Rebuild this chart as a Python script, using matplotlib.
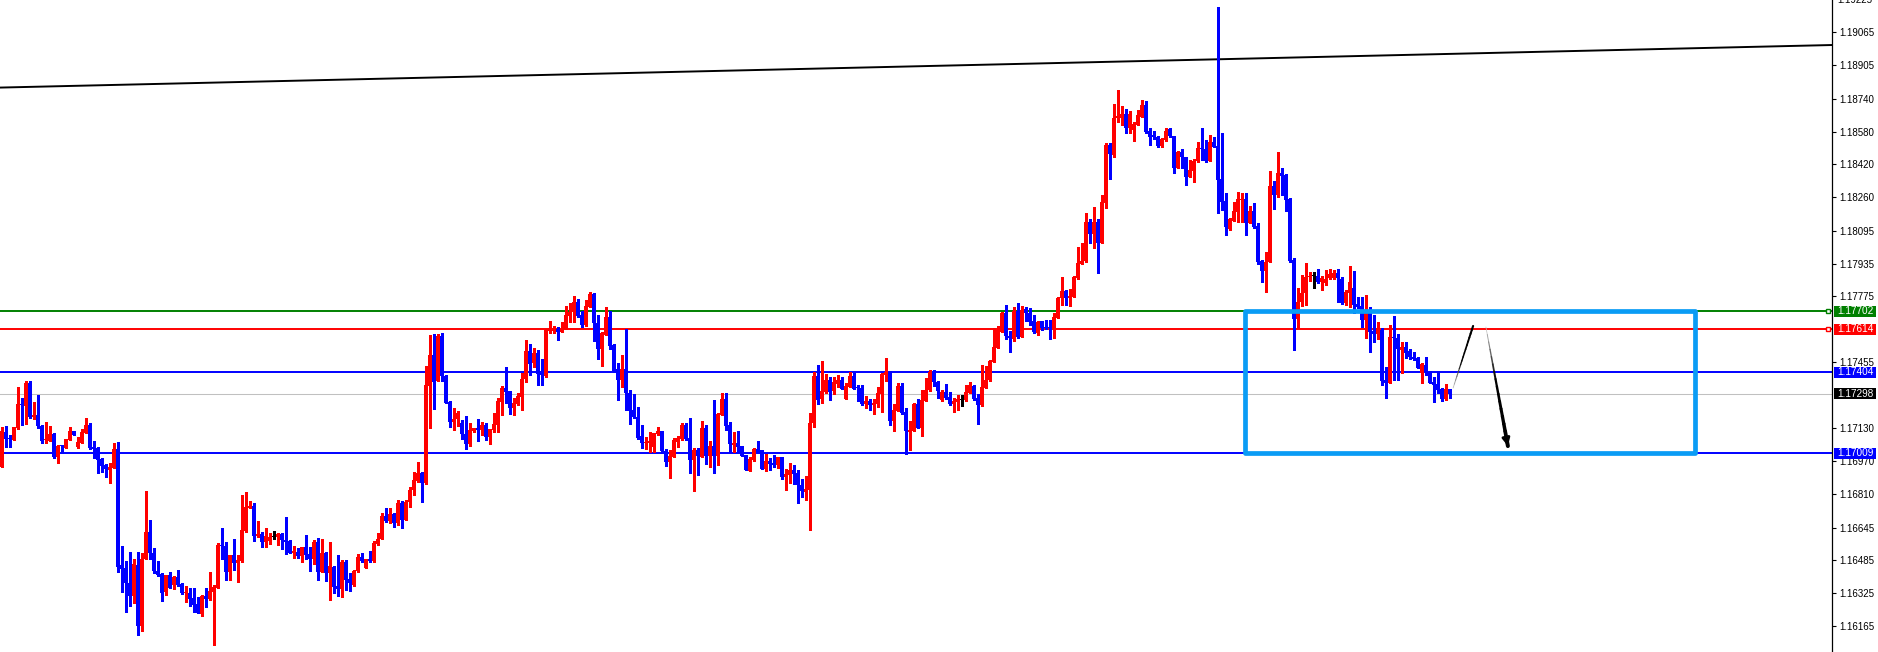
import matplotlib
matplotlib.use("Agg")
import matplotlib.pyplot as plt
from matplotlib.patches import Rectangle
from matplotlib.collections import LineCollection
from matplotlib.transforms import blended_transform_factory
import numpy as np

# OHLC, one candle per bar, oldest first
opens = [
    1.16941, 1.17112, 1.17083, 1.17073, 1.17132, 1.17249, 1.17239, 1.17351, 1.17185, 1.17195,
    1.17141, 1.17073, 1.17068, 1.17102, 1.16990, 1.17044, 1.17034, 1.17073, 1.17117, 1.17039,
    1.17058, 1.17107, 1.17146, 1.17039, 1.17034, 1.16980, 1.16951, 1.16926, 1.16936, 1.17029,
    1.16462, 1.16447, 1.16374, 1.16310, 1.16462, 1.16164, 1.16491, 1.16623, 1.16520, 1.16432,
    1.16418, 1.16330, 1.16413, 1.16364, 1.16403, 1.16369, 1.16325, 1.16325, 1.16301, 1.16271,
    1.16222, 1.16310, 1.16296, 1.16330, 1.16349, 1.16560, 1.16555, 1.16428, 1.16511, 1.16472,
    1.16481, 1.16628, 1.16740, 1.16750, 1.16604, 1.16613, 1.16574, 1.16579, 1.16599, 1.16599,
    1.16613, 1.16584, 1.16579, 1.16520, 1.16525, 1.16506, 1.16550, 1.16516, 1.16491, 1.16574,
    1.16428, 1.16520, 1.16423, 1.16452, 1.16359, 1.16344, 1.16476, 1.16393, 1.16364, 1.16432,
    1.16501, 1.16447, 1.16491, 1.16481, 1.16564, 1.16589, 1.16701, 1.16677, 1.16711, 1.16667,
    1.16765, 1.16682, 1.16770, 1.16828, 1.16872, 1.16912, 1.16863, 1.17337, 1.17488, 1.17361,
    1.17581, 1.17386, 1.17258, 1.17160, 1.17175, 1.17156, 1.17102, 1.17053, 1.17117, 1.17132,
    1.17122, 1.17146, 1.17088, 1.17122, 1.17146, 1.17258, 1.17327, 1.17312, 1.17229, 1.17249,
    1.17283, 1.17371, 1.17508, 1.17449, 1.17498, 1.17400, 1.17386, 1.17605, 1.17605, 1.17615,
    1.17600, 1.17615, 1.17679, 1.17698, 1.17747, 1.17684, 1.17635, 1.17723, 1.17786, 1.17644,
    1.17518, 1.17586, 1.17674, 1.17537, 1.17420, 1.17366, 1.17420, 1.17302, 1.17219, 1.17185,
    1.17093, 1.17058, 1.17058, 1.17039, 1.17102, 1.17117, 1.17019, 1.16966, 1.16990, 1.17063,
    1.17078, 1.17146, 1.17083, 1.16975, 1.17024, 1.16990, 1.17132, 1.16995, 1.17044, 1.16995,
    1.17195, 1.17273, 1.17146, 1.17049, 1.17058, 1.17044, 1.17000, 1.16921, 1.16975, 1.17029,
    1.17024, 1.16931, 1.16970, 1.16961, 1.16951, 1.16990, 1.16892, 1.16902, 1.16926, 1.16912,
    1.16853, 1.16818, 1.16828, 1.17156, 1.17386, 1.17273, 1.17307, 1.17366, 1.17312, 1.17346,
    1.17366, 1.17273, 1.17332, 1.17386, 1.17327, 1.17327, 1.17249, 1.17263, 1.17244, 1.17249,
    1.17297, 1.17390, 1.17405, 1.17165, 1.17214, 1.17337, 1.17209, 1.17112, 1.17117, 1.17249,
    1.17132, 1.17263, 1.17317, 1.17405, 1.17356, 1.17268, 1.17307, 1.17283, 1.17249, 1.17258,
    1.17268, 1.17268, 1.17302, 1.17337, 1.17278, 1.17244, 1.17327, 1.17366, 1.17454, 1.17522,
    1.17600, 1.17693, 1.17581, 1.17566, 1.17703, 1.17576, 1.17713, 1.17693, 1.17654, 1.17596,
    1.17654, 1.17625, 1.17625, 1.17620, 1.17669, 1.17767, 1.17801, 1.17767, 1.17772, 1.17864,
    1.17933, 1.17948, 1.18138, 1.18079, 1.18138, 1.18036, 1.18231, 1.18514, 1.18465, 1.18646,
    1.18646, 1.18666, 1.18598, 1.18588, 1.18612, 1.18651, 1.18710, 1.18583, 1.18563, 1.18553,
    1.18509, 1.18539, 1.18593, 1.18558, 1.18402, 1.18480, 1.18456, 1.18358, 1.18387, 1.18436,
    1.18500, 1.18495, 1.18436, 1.18529, 1.18509, 1.18348, 1.18241, 1.18104, 1.18143, 1.18187,
    1.18246, 1.18251, 1.18133, 1.18192, 1.18119, 1.17948, 1.17899, 1.17943, 1.18314, 1.18270,
    1.18378, 1.18368, 1.18251, 1.17952, 1.17664, 1.17747, 1.17791, 1.17869, 1.17874, 1.17874,
    1.17845, 1.17840, 1.17864, 1.17864, 1.17889, 1.17860, 1.17742, 1.17791, 1.17816, 1.17738,
    1.17728, 1.17659, 1.17698, 1.17605, 1.17591, 1.17610, 1.17366, 1.17351, 1.17576, 1.17571,
    1.17513, 1.17527, 1.17508, 1.17478, 1.17474, 1.17400, 1.17439, 1.17405, 1.17356, 1.17346,
    1.17322, 1.17273, 1.17322,
]
highs = [
    1.17136, 1.17141, 1.17098, 1.17136, 1.17332, 1.17278, 1.17361, 1.17361, 1.17258, 1.17293,
    1.17146, 1.17160, 1.17141, 1.17107, 1.17049, 1.17049, 1.17078, 1.17136, 1.17117, 1.17088,
    1.17127, 1.17180, 1.17156, 1.17068, 1.17039, 1.16985, 1.16956, 1.16961, 1.17058, 1.17063,
    1.16555, 1.16481, 1.16525, 1.16491, 1.16525, 1.16520, 1.16823, 1.16682, 1.16545, 1.16481,
    1.16423, 1.16413, 1.16428, 1.16408, 1.16437, 1.16374, 1.16359, 1.16349, 1.16349, 1.16305,
    1.16315, 1.16349, 1.16428, 1.16364, 1.16569, 1.16642, 1.16574, 1.16511, 1.16589, 1.16511,
    1.16804, 1.16818, 1.16775, 1.16765, 1.16677, 1.16623, 1.16642, 1.16618, 1.16628, 1.16618,
    1.16618, 1.16696, 1.16584, 1.16555, 1.16545, 1.16550, 1.16608, 1.16550, 1.16584, 1.16594,
    1.16589, 1.16525, 1.16574, 1.16457, 1.16511, 1.16486, 1.16486, 1.16423, 1.16437, 1.16516,
    1.16520, 1.16491, 1.16530, 1.16579, 1.16618, 1.16716, 1.16740, 1.16740, 1.16716, 1.16780,
    1.16775, 1.16780, 1.16843, 1.16916, 1.16966, 1.16916, 1.17434, 1.17586, 1.17591, 1.17591,
    1.17596, 1.17390, 1.17263, 1.17229, 1.17214, 1.17170, 1.17190, 1.17156, 1.17132, 1.17175,
    1.17160, 1.17156, 1.17127, 1.17205, 1.17278, 1.17337, 1.17429, 1.17312, 1.17278, 1.17302,
    1.17400, 1.17561, 1.17542, 1.17522, 1.17513, 1.17469, 1.17615, 1.17654, 1.17630, 1.17625,
    1.17649, 1.17728, 1.17742, 1.17776, 1.17762, 1.17703, 1.17757, 1.17796, 1.17791, 1.17684,
    1.17600, 1.17723, 1.17703, 1.17542, 1.17449, 1.17488, 1.17615, 1.17317, 1.17297, 1.17234,
    1.17146, 1.17088, 1.17112, 1.17107, 1.17136, 1.17117, 1.17029, 1.17024, 1.17083, 1.17093,
    1.17156, 1.17156, 1.17180, 1.17034, 1.17034, 1.17165, 1.17146, 1.17068, 1.17268, 1.17205,
    1.17302, 1.17302, 1.17160, 1.17112, 1.17117, 1.17044, 1.17000, 1.16990, 1.17034, 1.17068,
    1.17024, 1.17004, 1.16985, 1.17000, 1.16990, 1.16990, 1.16931, 1.16961, 1.16951, 1.16926,
    1.16882, 1.16897, 1.17205, 1.17405, 1.17439, 1.17459, 1.17395, 1.17381, 1.17381, 1.17390,
    1.17381, 1.17351, 1.17405, 1.17400, 1.17342, 1.17342, 1.17288, 1.17273, 1.17273, 1.17332,
    1.17400, 1.17474, 1.17410, 1.17249, 1.17351, 1.17351, 1.17229, 1.17165, 1.17254, 1.17273,
    1.17317, 1.17376, 1.17415, 1.17415, 1.17361, 1.17317, 1.17346, 1.17307, 1.17278, 1.17293,
    1.17293, 1.17342, 1.17356, 1.17342, 1.17297, 1.17439, 1.17434, 1.17464, 1.17620, 1.17630,
    1.17698, 1.17733, 1.17605, 1.17723, 1.17742, 1.17728, 1.17723, 1.17718, 1.17684, 1.17654,
    1.17654, 1.17659, 1.17659, 1.17693, 1.17772, 1.17869, 1.17806, 1.17811, 1.17874, 1.18016,
    1.18036, 1.18182, 1.18153, 1.18211, 1.18153, 1.18270, 1.18524, 1.18524, 1.18715, 1.18783,
    1.18705, 1.18690, 1.18680, 1.18627, 1.18685, 1.18734, 1.18729, 1.18598, 1.18583, 1.18558,
    1.18549, 1.18598, 1.18598, 1.18558, 1.18485, 1.18495, 1.18456, 1.18441, 1.18446, 1.18529,
    1.18598, 1.18539, 1.18563, 1.18553, 1.19189, 1.18573, 1.18280, 1.18158, 1.18236, 1.18285,
    1.18280, 1.18280, 1.18216, 1.18231, 1.18133, 1.17952, 1.17992, 1.18387, 1.18338, 1.18480,
    1.18402, 1.18373, 1.18255, 1.17962, 1.17816, 1.17879, 1.17938, 1.17894, 1.17894, 1.17909,
    1.17874, 1.17904, 1.17909, 1.17904, 1.17909, 1.17869, 1.17806, 1.17923, 1.17899, 1.17772,
    1.17772, 1.17781, 1.17723, 1.17684, 1.17649, 1.17620, 1.17429, 1.17635, 1.17679, 1.17591,
    1.17552, 1.17552, 1.17518, 1.17503, 1.17478, 1.17449, 1.17478, 1.17410, 1.17381, 1.17410,
    1.17327, 1.17346, 1.17322,
]
lows = [
    1.16941, 1.17039, 1.17039, 1.17073, 1.17127, 1.17146, 1.17151, 1.17180, 1.17175, 1.17132,
    1.17058, 1.17058, 1.17068, 1.16985, 1.16961, 1.17009, 1.17034, 1.17073, 1.17098, 1.17034,
    1.17058, 1.17107, 1.17029, 1.16985, 1.16912, 1.16917, 1.16892, 1.16863, 1.16936, 1.16428,
    1.16330, 1.16232, 1.16262, 1.16276, 1.16120, 1.16139, 1.16491, 1.16491, 1.16423, 1.16408,
    1.16286, 1.16315, 1.16349, 1.16344, 1.16359, 1.16320, 1.16281, 1.16262, 1.16232, 1.16227,
    1.16213, 1.16257, 1.16291, 1.16071, 1.16349, 1.16491, 1.16389, 1.16389, 1.16437, 1.16379,
    1.16476, 1.16623, 1.16740, 1.16579, 1.16599, 1.16550, 1.16550, 1.16564, 1.16589, 1.16560,
    1.16540, 1.16516, 1.16520, 1.16496, 1.16496, 1.16476, 1.16491, 1.16432, 1.16467, 1.16389,
    1.16428, 1.16384, 1.16291, 1.16325, 1.16310, 1.16305, 1.16340, 1.16335, 1.16359, 1.16428,
    1.16476, 1.16447, 1.16476, 1.16476, 1.16560, 1.16589, 1.16672, 1.16667, 1.16648, 1.16657,
    1.16642, 1.16682, 1.16745, 1.16804, 1.16867, 1.16770, 1.16858, 1.17132, 1.17224, 1.17361,
    1.17361, 1.17254, 1.17136, 1.17122, 1.17141, 1.17078, 1.17029, 1.17044, 1.17112, 1.17068,
    1.17098, 1.17073, 1.17053, 1.17112, 1.17112, 1.17195, 1.17254, 1.17200, 1.17195, 1.17244,
    1.17219, 1.17356, 1.17390, 1.17429, 1.17342, 1.17342, 1.17381, 1.17596, 1.17596, 1.17561,
    1.17600, 1.17615, 1.17649, 1.17649, 1.17674, 1.17625, 1.17630, 1.17723, 1.17557, 1.17469,
    1.17434, 1.17586, 1.17518, 1.17405, 1.17268, 1.17332, 1.17219, 1.17151, 1.17180, 1.17078,
    1.17034, 1.17029, 1.17014, 1.17014, 1.17098, 1.17009, 1.16946, 1.16887, 1.16990, 1.17039,
    1.17073, 1.17073, 1.16912, 1.16823, 1.16902, 1.16990, 1.16956, 1.16941, 1.16912, 1.16951,
    1.17195, 1.17122, 1.17014, 1.17014, 1.17014, 1.16995, 1.16926, 1.16921, 1.16970, 1.17009,
    1.16931, 1.16921, 1.16926, 1.16941, 1.16936, 1.16882, 1.16828, 1.16863, 1.16858, 1.16765,
    1.16794, 1.16780, 1.16633, 1.17136, 1.17249, 1.17254, 1.17302, 1.17268, 1.17297, 1.17332,
    1.17322, 1.17273, 1.17332, 1.17322, 1.17263, 1.17244, 1.17229, 1.17219, 1.17200, 1.17234,
    1.17209, 1.17361, 1.17146, 1.17117, 1.17214, 1.17200, 1.17004, 1.17024, 1.17117, 1.17132,
    1.17093, 1.17263, 1.17312, 1.17337, 1.17278, 1.17263, 1.17273, 1.17244, 1.17209, 1.17219,
    1.17239, 1.17263, 1.17302, 1.17268, 1.17151, 1.17239, 1.17327, 1.17361, 1.17454, 1.17522,
    1.17600, 1.17566, 1.17503, 1.17557, 1.17571, 1.17576, 1.17654, 1.17635, 1.17596, 1.17586,
    1.17610, 1.17615, 1.17566, 1.17571, 1.17669, 1.17733, 1.17733, 1.17728, 1.17772, 1.17860,
    1.17933, 1.17943, 1.18036, 1.18011, 1.17889, 1.18036, 1.18206, 1.18348, 1.18456, 1.18627,
    1.18612, 1.18573, 1.18573, 1.18534, 1.18612, 1.18651, 1.18573, 1.18514, 1.18544, 1.18505,
    1.18505, 1.18534, 1.18553, 1.18378, 1.18402, 1.18402, 1.18319, 1.18358, 1.18334, 1.18431,
    1.18441, 1.18431, 1.18436, 1.18505, 1.18182, 1.18197, 1.18075, 1.18099, 1.18143, 1.18138,
    1.18138, 1.18075, 1.18133, 1.18109, 1.17933, 1.17845, 1.17796, 1.17943, 1.18202, 1.18260,
    1.18270, 1.18192, 1.17943, 1.17513, 1.17620, 1.17728, 1.17733, 1.17850, 1.17816, 1.17840,
    1.17806, 1.17830, 1.17860, 1.17860, 1.17747, 1.17738, 1.17733, 1.17723, 1.17693, 1.17718,
    1.17625, 1.17571, 1.17503, 1.17552, 1.17566, 1.17342, 1.17278, 1.17351, 1.17366, 1.17366,
    1.17400, 1.17474, 1.17469, 1.17464, 1.17425, 1.17351, 1.17390, 1.17351, 1.17258, 1.17302,
    1.17263, 1.17268, 1.17278,
]
closes = [
    1.17117, 1.17078, 1.17080, 1.17136, 1.17249, 1.17244, 1.17351, 1.17185, 1.17195, 1.17141,
    1.17068, 1.17075, 1.17102, 1.16990, 1.17044, 1.17042, 1.17078, 1.17117, 1.17098, 1.17063,
    1.17112, 1.17146, 1.17034, 1.17029, 1.16975, 1.16946, 1.16931, 1.16941, 1.17029, 1.16452,
    1.16442, 1.16374, 1.16310, 1.16467, 1.16164, 1.16491, 1.16623, 1.16520, 1.16432, 1.16413,
    1.16325, 1.16413, 1.16349, 1.16403, 1.16364, 1.16325, 1.16330, 1.16296, 1.16266, 1.16227,
    1.16310, 1.16296, 1.16335, 1.16354, 1.16560, 1.16556, 1.16428, 1.16511, 1.16472, 1.16486,
    1.16633, 1.16745, 1.16750, 1.16604, 1.16613, 1.16574, 1.16604, 1.16599, 1.16599, 1.16613,
    1.16584, 1.16574, 1.16520, 1.16530, 1.16506, 1.16550, 1.16511, 1.16491, 1.16574, 1.16428,
    1.16520, 1.16423, 1.16457, 1.16354, 1.16344, 1.16476, 1.16389, 1.16374, 1.16432, 1.16501,
    1.16481, 1.16491, 1.16481, 1.16569, 1.16589, 1.16701, 1.16677, 1.16711, 1.16667, 1.16765,
    1.16682, 1.16770, 1.16828, 1.16877, 1.16912, 1.16863, 1.17341, 1.17488, 1.17356, 1.17581,
    1.17386, 1.17254, 1.17160, 1.17175, 1.17205, 1.17102, 1.17053, 1.17122, 1.17132, 1.17122,
    1.17146, 1.17088, 1.17127, 1.17151, 1.17263, 1.17327, 1.17307, 1.17229, 1.17254, 1.17288,
    1.17371, 1.17508, 1.17444, 1.17498, 1.17395, 1.17390, 1.17610, 1.17620, 1.17610, 1.17600,
    1.17615, 1.17684, 1.17698, 1.17747, 1.17679, 1.17635, 1.17728, 1.17786, 1.17644, 1.17518,
    1.17596, 1.17674, 1.17532, 1.17410, 1.17366, 1.17420, 1.17302, 1.17214, 1.17185, 1.17083,
    1.17058, 1.17063, 1.17068, 1.17107, 1.17117, 1.17019, 1.16966, 1.16995, 1.17073, 1.17083,
    1.17146, 1.17078, 1.16975, 1.17024, 1.16995, 1.17132, 1.16995, 1.17044, 1.16995, 1.17200,
    1.17273, 1.17141, 1.17053, 1.17058, 1.17039, 1.16995, 1.16926, 1.16980, 1.17029, 1.17009,
    1.16931, 1.16970, 1.16956, 1.16951, 1.16990, 1.16892, 1.16907, 1.16926, 1.16907, 1.16853,
    1.16823, 1.16833, 1.17156, 1.17386, 1.17268, 1.17312, 1.17366, 1.17307, 1.17356, 1.17366,
    1.17322, 1.17337, 1.17386, 1.17322, 1.17325, 1.17249, 1.17263, 1.17244, 1.17254, 1.17302,
    1.17395, 1.17405, 1.17165, 1.17219, 1.17337, 1.17205, 1.17117, 1.17122, 1.17249, 1.17132,
    1.17268, 1.17317, 1.17405, 1.17356, 1.17312, 1.17307, 1.17278, 1.17249, 1.17263, 1.17273,
    1.17268, 1.17307, 1.17342, 1.17273, 1.17244, 1.17332, 1.17366, 1.17459, 1.17527, 1.17610,
    1.17693, 1.17581, 1.17571, 1.17703, 1.17576, 1.17708, 1.17693, 1.17649, 1.17600, 1.17649,
    1.17620, 1.17620, 1.17622, 1.17674, 1.17767, 1.17801, 1.17767, 1.17776, 1.17869, 1.17938,
    1.17948, 1.18138, 1.18079, 1.18138, 1.18036, 1.18236, 1.18514, 1.18470, 1.18646, 1.18656,
    1.18666, 1.18598, 1.18666, 1.18617, 1.18661, 1.18710, 1.18578, 1.18553, 1.18553, 1.18509,
    1.18544, 1.18583, 1.18558, 1.18402, 1.18480, 1.18456, 1.18358, 1.18392, 1.18436, 1.18500,
    1.18495, 1.18436, 1.18529, 1.18505, 1.18343, 1.18236, 1.18114, 1.18153, 1.18192, 1.18251,
    1.18251, 1.18133, 1.18192, 1.18114, 1.17943, 1.17899, 1.17943, 1.18314, 1.18270, 1.18378,
    1.18363, 1.18246, 1.17948, 1.17664, 1.17747, 1.17791, 1.17869, 1.17874, 1.17874, 1.17845,
    1.17864, 1.17860, 1.17884, 1.17889, 1.17864, 1.17742, 1.17796, 1.17845, 1.17733, 1.17723,
    1.17659, 1.17698, 1.17600, 1.17591, 1.17620, 1.17361, 1.17351, 1.17576, 1.17571, 1.17518,
    1.17527, 1.17498, 1.17478, 1.17469, 1.17425, 1.17444, 1.17405, 1.17351, 1.17342, 1.17317,
    1.17273, 1.17322, 1.17298,
]

# horizontal levels drawn on the chart
level_green = 1.17702
level_red = 1.17614
level_blue_hi = 1.17404
level_blue_lo = 1.17009
last_price = 1.17298

# trend line: price at the left and right edge of the chart
trend_left = 1.18795
trend_right = 1.19003

# projection box and arrows (bar index, price)
box_bars = (310.9, 423.4)
box_prices = (1.17009, 1.17702)
up_leg = ((362.9, 1.17327), (367.9, 1.17630))
down_leg = ((371.1, 1.17625), (376.6, 1.17043))

yticks = [1.19065, 1.18905, 1.18740, 1.18580, 1.18420, 1.18260, 1.18095, 1.17935,
          1.17775, 1.17455, 1.17130, 1.16970, 1.16810, 1.16645, 1.16485, 1.16325, 1.16165]
top_tick = 1.19225

plt.rcParams['font.family'] = ['Liberation Sans', 'DejaVu Sans']

W, H = 1878, 652
plot_w = 1832
fig = plt.figure(figsize=(W / 100, H / 100), dpi=100)
ax = fig.add_axes([0, 0, plot_w / W, 1])

ymin, ymax = 1.160367, 1.19223
xmin = -0.375
xmax = xmin + plot_w / 4
ax.set_xlim(xmin, xmax)
ax.set_ylim(ymin, ymax)
px = (ymax - ymin) / H  # one pixel in price units

o = np.array(opens)
hi = np.array(highs)
lo = np.array(lows)
c = np.array(closes)
x = np.arange(len(c))

cols = np.where(c > o, '#ff0000', np.where(c < o, '#0000ff', '#000000'))

# level lines
ax.axhline(last_price, color='#c0c0c0', lw=0.75, zorder=1)
for lvl, col in [(level_green, '#008000'), (level_red, '#ff0000'),
                 (level_blue_hi, '#0000ff'), (level_blue_lo, '#0000ff')]:
    ax.axhline(lvl, color=col, lw=1.4, zorder=2)

# trend line
ax.plot([xmin, xmax], [trend_left, trend_right], color='black', lw=1.4, zorder=2)

# candles
ax.vlines(x, lo, hi, colors=cols, lw=0.75, antialiased=False, zorder=3)
body_bot = np.minimum(o, c)
body_h = np.maximum(np.abs(c - o), px)
ax.bar(x, body_h, bottom=body_bot, width=0.75, color=cols, linewidth=0,
       antialiased=False, zorder=4)

# projection box
rect = Rectangle((box_bars[0], box_prices[0]), box_bars[1] - box_bars[0],
                 box_prices[1] - box_prices[0], fill=False, ec='#0a9cf5',
                 lw=3.4, joinstyle='round', zorder=5)
ax.add_patch(rect)


def fading_leg(start, end, w0, w1, fade=0.4):
    # thin grey at the start, thicker black towards the end
    t = np.linspace(0, 1, 17)
    xs = start[0] + (end[0] - start[0]) * t
    ys = start[1] + (end[1] - start[1]) * t
    segs = [[(xs[k], ys[k]), (xs[k + 1], ys[k + 1])] for k in range(len(t) - 1)]
    greys = [str(0.75 * (1 - min(1, v / fade))) for v in t[:-1]]
    widths = [w0 + (w1 - w0) * v for v in t[:-1]]
    return LineCollection(segs, colors=greys, linewidths=widths, zorder=6,
                          capstyle='round')


ax.add_collection(fading_leg(up_leg[0], up_leg[1], 0.6, 1.6))
ax.add_collection(fading_leg(down_leg[0], down_leg[1], 0.5, 3.0))
ax.annotate('', xy=down_leg[1], xytext=(down_leg[1][0] - 0.45, down_leg[1][1] + 0.0004),
            arrowprops=dict(arrowstyle='-|>', color='black', lw=2.0,
                            mutation_scale=11, shrinkA=0, shrinkB=0), zorder=7)

# right price axis
for side in ['top', 'left', 'bottom']:
    ax.spines[side].set_visible(False)
ax.spines['right'].set_color('black')
ax.spines['right'].set_linewidth(0.9)
ax.set_xticks([])
ax.yaxis.tick_right()
ax.set_yticks(yticks)
ax.set_yticklabels([f'{t:.5f}' for t in yticks])
ax.tick_params(axis='y', direction='out', length=3, width=0.8, pad=2,
               labelsize=7, colors='black')

tr = blended_transform_factory(ax.transAxes, ax.transData)
ax.text(1 + 5 / plot_w, top_tick, f'{top_tick:.5f}', transform=tr, fontsize=7,
        va='center', ha='left', clip_on=False)

# coloured price tags on the axis
tag_x0 = 1 + 2 / plot_w
tag_w = 42 / plot_w
tag_h = 11 * px
for lvl, col in [(level_green, '#008000'), (level_red, '#ff0000'),
                 (level_blue_hi, '#0000ff'), (last_price, '#000000'),
                 (level_blue_lo, '#0000ff')]:
    ax.add_patch(Rectangle((tag_x0, lvl - tag_h / 2), tag_w, tag_h, transform=tr,
                           fc=col, ec='none', clip_on=False, zorder=9))
    ax.text(tag_x0 + tag_w / 2, lvl, f'{lvl:.5f}', transform=tr, fontsize=7.2,
            color='white', va='center', ha='center', clip_on=False, zorder=10)

# small squares where the green and red lines meet the axis
for lvl, col in [(level_green, '#008000'), (level_red, '#ff0000')]:
    ax.plot([xmax - 0.9], [lvl], marker='s', ms=3.2, mfc='white', mec=col,
            mew=1.0, clip_on=False, zorder=7)

fig.savefig('out.png', dpi=100)
